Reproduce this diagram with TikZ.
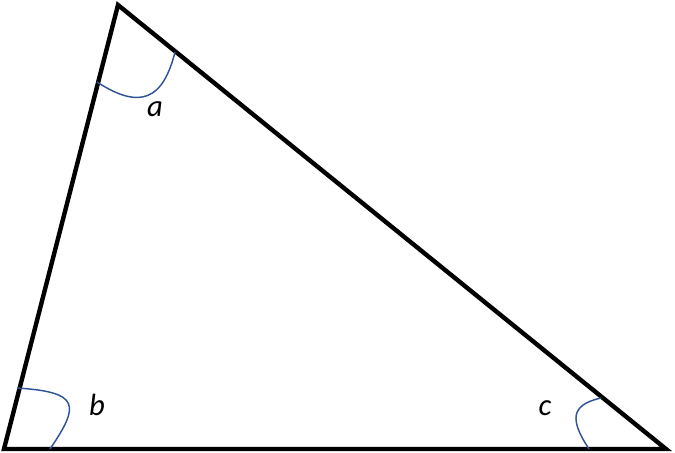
\documentclass[tikz,border=0pt]{standalone}
\usepackage{fontspec}
\setmainfont{Carlito}
\definecolor{arcblue}{HTML}{2F5597}
\begin{document}
\begin{tikzpicture}[x=0.75pt,y=-0.75pt]
\useasboundingbox (0,0) rectangle (675,453);
\coordinate (A) at (118,5);
\coordinate (B) at (4,449);
\coordinate (C) at (666,449);
\draw[line width=3.3pt,line join=miter] (A)--(B)--(C)--cycle;
\draw[arcblue,line width=1.1pt] (97,82) .. controls (140,110) and (163,100) .. (175,52);
\draw[arcblue,line width=1.1pt] (17,388) .. controls (80,392) and (80,405) .. (50,449);
\draw[arcblue,line width=1.1pt] (601,398) .. controls (570,405) and (570,420) .. (589,449);
   \node (la) at (155,109) {\fontsize{23}{28}\selectfont\itshape a};
   \node (lb) at (97,405) {\fontsize{23}{28}\selectfont\itshape b};
   \node (lc) at (545,408) {\fontsize{23}{28}\selectfont\itshape c};
\end{tikzpicture}
\end{document}
